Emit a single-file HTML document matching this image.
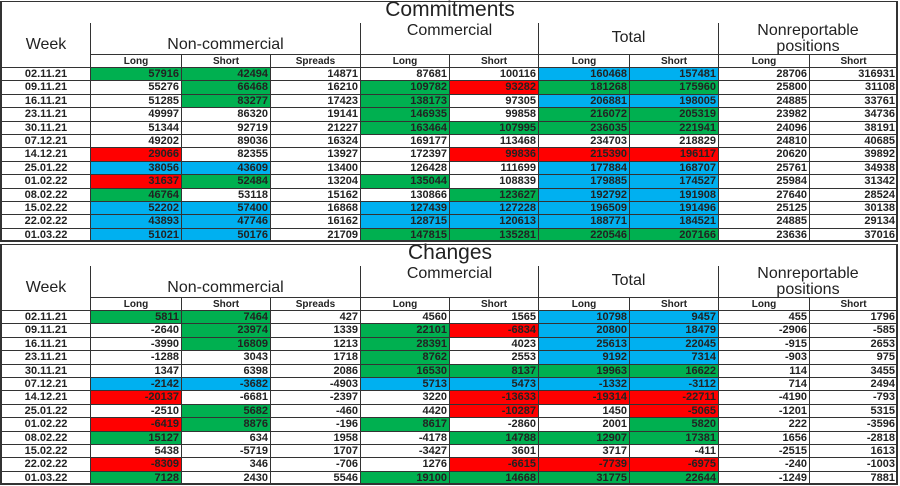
<!DOCTYPE html>
<html><head><meta charset="utf-8"><style>
body{margin:0;background:#fff;}
#root{position:relative;width:900px;height:486px;overflow:hidden;font-family:"Liberation Sans",sans-serif;background:#fff;}
.c{position:absolute;box-sizing:border-box;border-right:1px solid #333;border-bottom:1px solid #333;color:#222;}
.n{font-size:11px;font-weight:bold;text-align:right;padding-right:2px;line-height:13px;}
.w{font-size:11px;font-weight:bold;text-align:center;line-height:13px;}
.sh{font-size:10px;font-weight:bold;text-align:center;line-height:13px;}
.g{background:#00b050;} .b{background:#00b0f0;} .r{background:#ff0000;}
.t{position:absolute;font-size:21px;text-align:center;width:900px;color:#222;}
.h{font-size:16px;text-align:center;display:flex;align-items:flex-end;justify-content:center;line-height:16px;padding-bottom:1px;}
</style></head><body>
<div id="root"></div>
<script>
const weeks=["02.11.21","09.11.21","16.11.21","23.11.21","30.11.21","07.12.21","14.12.21","25.01.22","01.02.22","08.02.22","15.02.22","22.02.22","01.03.22"];
const commitValues=[
[57916,42494,14871,87681,100116,160468,157481,28706,316931],
[55276,66468,16210,109782,93282,181268,175960,25800,31108],
[51285,83277,17423,138173,97305,206881,198005,24885,33761],
[49997,86320,19141,146935,99858,216072,205319,23982,34736],
[51344,92719,21227,163464,107995,236035,221941,24096,38191],
[49202,89036,16324,169177,113468,234703,218829,24810,40685],
[29066,82355,13927,172397,99836,215390,196117,20620,39892],
[38056,43609,13400,126428,111699,177884,168707,25761,34938],
[31637,52484,13204,135044,108839,179885,174527,25984,31342],
[46764,53118,15162,130866,123627,192792,191908,27640,28524],
[52202,57400,16868,127439,127228,196509,191496,25125,30138],
[43893,47746,16162,128715,120613,188771,184521,24885,29134],
[51021,50176,21709,147815,135281,220546,207166,23636,37016]];
const commitColors=["gg___bb__","_g_grgg__","_g_g_bb__","___g_gg__","___gggg__","_________","r___rrr__","bb___bb__","rg_g_bb__","g___gbb__","bb_bbbb__","bb_bbbb__","bb_gggg__"];
const changeValues=[
[5811,7464,427,4560,1565,10798,9457,455,1796],
[-2640,23974,1339,22101,-6834,20800,18479,-2906,-585],
[-3990,16809,1213,28391,4023,25613,22045,-915,2653],
[-1288,3043,1718,8762,2553,9192,7314,-903,975],
[1347,6398,2086,16530,8137,19963,16622,114,3455],
[-2142,-3682,-4903,5713,5473,-1332,-3112,714,2494],
[-20137,-6681,-2397,3220,-13633,-19314,-22711,-4190,-793],
[-2510,5682,-460,4420,-10287,1450,-5065,-1201,5315],
[-6419,8876,-196,8617,-2860,2001,5820,222,-3596],
[15127,634,1958,-4178,14788,12907,17381,1656,-2818],
[5438,-5719,1707,-3427,3601,3717,-411,-2515,1613],
[-8309,346,-706,1276,-6615,-7739,-6975,-240,-1003],
[7128,2430,5546,19100,14668,31775,22644,-1249,7881]];
const changeColors=["gg___bb__","_g_grbb__","_g_g_bb__","___g_bb__","___gggg__","bb_bbbb__","r___rrr__","_g__r_r__","rg_g__g__","g___ggg__","_________","r___rrr__","g__gggg__"];
const xs=[2,91,182,271,361,450,539,630,719,810,898];
const subs=["Long","Short","Spreads","Long","Short","Long","Short","Long","Short"];
const root=document.getElementById('root');
function cell(x,y,w,h,cls,txt,name){const d=document.createElement('div');d.className='c '+cls;d.style.left=x+'px';d.style.top=y+'px';d.style.width=w+'px';d.style.height=h+'px';d.textContent=txt;


root.appendChild(d);return d;}
function section(top,title,vals,cols,key){
 const t=document.createElement('div');t.className='t';t.style.top=(top-3)+'px';t.textContent=title;
 
 
 root.appendChild(t);
 const gy=top+22,sy=top+54,dy=top+67,rh=13.4;
 cell(2,gy,89,45,'h','Week',key+'-week-header').style.alignItems='center';
 cell(91,gy,270,32,'h','Non-commercial',key+'-noncommercial-header');
 cell(361,gy,178,32,'h','Commercial',key+'-commercial-header').style.alignItems='flex-start';
 cell(539,gy,180,32,'h','Total',key+'-total-header').style.alignItems='center';
 const nr=cell(719,gy,179,32,'h','Nonreportable positions',key+'-nonreportable-header');nr.style.alignItems='center';nr.style.padding='0 20px';
 for(let i=0;i<9;i++)cell(xs[i+1],sy,xs[i+2]-xs[i+1],13,'sh',subs[i],key+'-subheader');
 for(let r=0;r<weeks.length;r++){
  const y=Math.round(dy+r*rh),h=Math.round(dy+(r+1)*rh)-y;
  cell(2,y,89,h,'w',weeks[r],key+'-week-label');
  for(let i=0;i<9;i++){const c=cols[r][i];cell(xs[i+1],y,xs[i+2]-xs[i+1],h,'n '+(c==='_'?'':c),String(vals[r][i]),key+'-value-cell');}
 }
 const f=document.createElement('div');f.style.cssText='position:absolute;left:0;top:'+top+'px;width:898px;height:'+(Math.round(dy+13*rh)-top)+'px;border:2px solid #333;border-top:1px solid #333;box-sizing:border-box;pointer-events:none';
 
 
 root.appendChild(f);
}
section(1,'Commitments',commitValues,commitColors,'commitments');
section(244,'Changes',changeValues,changeColors,'changes');
</script>
</body></html>
